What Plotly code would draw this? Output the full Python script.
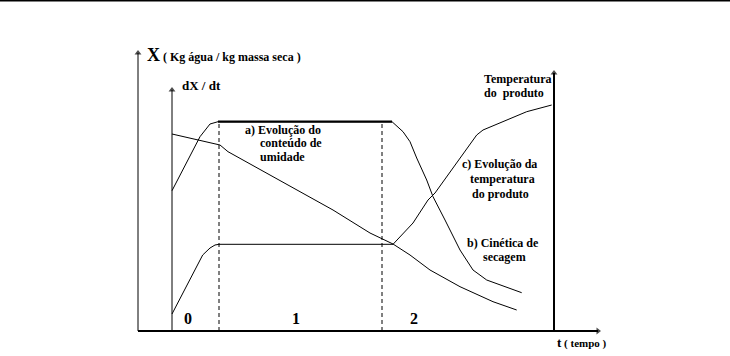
import plotly.graph_objects as go

# Coordinate units: t = horizontal distance right of the dX/dt axis, v = height above time axis
# b) drying kinetics (dX/dt)
t_rate = [0, 16, 28, 38, 46, 220, 231, 238, 244.7, 254.7, 261, 273, 288, 301, 314.7, 349.7]
v_rate = [140.3, 171, 194.3, 207, 209.3, 209.3, 199.3, 189.3, 173, 151, 134.3, 111, 81, 61, 51, 38.3]
# c) product temperature
t_temp = [0, 30.7, 38, 43, 47, 221, 241, 256, 263, 288, 304.7, 311, 331, 354.7, 379.7]
v_temp = [17, 76, 83, 86, 86.7, 86.7, 108, 131, 138, 173, 196, 201, 209.3, 219.3, 226]
# a) moisture content X
t_X = [0, 48, 56, 71, 84.7, 88, 124.7, 161, 198, 221, 238, 258, 288, 321, 344.7]
v_X = [197, 186, 179.3, 171, 163, 161, 141, 121, 98, 87, 76, 61, 44.3, 29.3, 21]

# axes and phase boundaries
t_axis_X, top_axis_X = -34, 278
t_axis_rate, top_axis_rate = 0, 241
t_axis_temp, top_axis_temp = 382, 258
t_time_end = 426
t_phase = [47, 210]
v_phase_top = 209.3
phase_labels = ["0", "1", "2"]
phase_label_t = [16, 124, 242]
phase_label_v = 13

X_MIN, X_MAX = -172, 558
Y_MIN, Y_MAX = -25, 331

fig = go.Figure()
blk = "black"

def line(x, y, w=1, dash=None, end_symbol=None):
    sym = ["circle"] * len(x)
    sz = [0] * len(x)
    mode = "lines"
    if end_symbol:
        sym[-1] = end_symbol
        sz[-1] = 6
        mode = "lines+markers"
    fig.add_trace(go.Scatter(x=x, y=y, mode=mode,
                             line=dict(color=blk, width=w, dash=dash),
                             marker=dict(symbol=sym, size=sz, color=blk, line=dict(width=0)),
                             hoverinfo="skip", showlegend=False))

# frame line at top
line([X_MIN, X_MAX], [Y_MAX - 0.7, Y_MAX - 0.7], w=1.5)
# axes
line([t_axis_X, t_axis_X], [0, top_axis_X], w=1, end_symbol="triangle-up")
line([t_axis_rate, t_axis_rate], [0, top_axis_rate], w=1, end_symbol="triangle-up")
line([t_axis_temp, t_axis_temp], [0, top_axis_temp], w=2, end_symbol="triangle-up")
line([t_axis_X, t_time_end], [0, 0], w=2, end_symbol="triangle-right")
# dashed phase boundaries
for tp in t_phase:
    line([tp, tp], [0, v_phase_top], w=1, dash="4px,3px")
# curves
line(t_rate, v_rate, w=1)
line(t_rate[4:6], v_rate[4:6], w=2.2)
line(t_temp, v_temp, w=1)
line(t_X, v_X, w=1)

font = "Times New Roman"
def txt(x, y, s, size=12, anchor="left"):
    fig.add_annotation(x=x, y=y, text="<b>" + s + "</b>", showarrow=False,
                       xanchor=anchor, yanchor="middle",
                       font=dict(family=font, size=size, color=blk))

txt(-27, 276, "<span style='font-size:18px'>X</span> ( Kg água / kg massa seca )", size=12)
txt(8, 246, "dX / dt", size=13)
txt(71, 201, "a) Evolução do")
txt(86, 188, "conteúdo de")
txt(86, 174, "umidade")
txt(310, 252, "Temperatura")
txt(310, 238, "do  produto")
txt(288, 167, "c) Evolução da")
txt(296, 152, "temperatura")
txt(298, 137, "do produto")
txt(293, 88, "b) Cinética de")
txt(309, 74, "secagem")
txt(383, -11, "<span style='font-size:13px'>t</span> ( tempo )", size=11)
for lab, tl in zip(phase_labels, phase_label_t):
    txt(tl, phase_label_v, lab, size=16, anchor="center")

fig.update_layout(width=730, height=356, autosize=False,
                  margin=dict(l=0, r=0, t=0, b=0),
                  paper_bgcolor="white", plot_bgcolor="white",
                  xaxis=dict(range=[X_MIN, X_MAX], visible=False, fixedrange=True),
                  yaxis=dict(range=[Y_MIN, Y_MAX], visible=False, fixedrange=True))
fig.write_html("out.html")
